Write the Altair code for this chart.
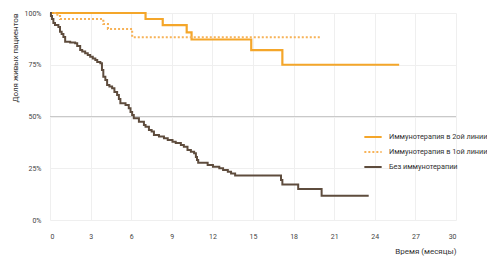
import altair as alt
import pandas as pd

series_names = ["Иммунотерапия в 2ой линии", "Иммунотерапия в 1ой линии", "Без иммунотерапии"]
series_colors = ["#F4A62A", "#F7B257", "#5E4C3D"]
series_dash = [[1, 0], [2, 2], [1, 0]]
series_width = [2.2, 2.0, 2.4]

# Immunotherapy, 2nd line
t_2nd = [0, 7.06, 8.33, 10.1, 10.46, 14.87, 17.17, 25.8]
s_2nd = [100, 97.1, 94.1, 90.6, 87.2, 82.1, 75.0, 75.0]

# Immunotherapy, 1st line
t_1st = [0, 0.37, 0.74, 3.94, 4.28, 6.07, 20.07]
s_1st = [100, 99.2, 97.1, 94.7, 92.3, 88.3, 88.3]

# No immunotherapy
t_none = [0, 0.07, 0.15, 0.25, 0.37, 0.62, 0.74, 0.86, 0.99, 1.12, 1.49, 1.86, 2.01,
          2.23, 2.38, 2.60, 2.79, 2.97, 3.16, 3.35, 3.49, 3.72, 3.84, 3.94, 4.09, 4.22,
          4.39, 4.59, 4.76, 4.96, 5.09, 5.20, 5.58, 5.82, 5.95, 6.07, 6.19, 6.57, 6.94,
          7.06, 7.31, 7.51, 7.68, 8.05, 8.42, 8.70, 9.05, 9.29, 9.67, 9.89, 10.16, 10.41,
          10.65, 10.78, 10.86, 10.95, 11.65, 12.04, 12.51, 12.79, 13.14, 13.38, 13.68,
          17.07, 17.17, 18.34, 20.07, 23.55]
s_none = [100, 98.6, 97.1, 95.2, 94.2, 93.2, 91.0, 89.9, 88.4, 86.1, 85.7, 85.4, 84.1,
          82.1, 81.4, 80.5, 79.7, 78.9, 78.0, 77.3, 76.3, 75.7, 72.5, 69.2, 67.6, 65.2,
          64.5, 63.6, 61.8, 60.4, 58.5, 56.4, 55.6, 54.0, 52.2, 50.7, 49.1, 47.5, 45.9,
          45.1, 43.5, 42.7, 41.1, 40.3, 39.5, 38.6, 37.8, 37.2, 36.2, 35.4, 33.8, 33.0,
          32.2, 30.4, 29.0, 27.7, 26.6, 25.7, 25.0, 24.2, 23.3, 22.5, 21.5,
          19.3, 17.2, 15.0, 11.7, 11.7]

x_ticks = [0, 3, 6, 9, 12, 15, 18, 21, 24, 27, 30]
y_ticks = [0, 25, 50, 75, 100]
ref_line = [50]

rows = []
for name, ts, ss in zip(series_names, [t_2nd, t_1st, t_none], [s_2nd, s_1st, s_none]):
    for t, s in zip(ts, ss):
        rows.append({"series": name, "t": t, "s": s})
df = pd.DataFrame(rows)

FONT = "Roboto"

x_enc = alt.X("t:Q", scale=alt.Scale(domain=[0, 30], nice=False),
              axis=alt.Axis(values=x_ticks, title="Время (месяцы)", titleAnchor="end",
                            labelPadding=12, titlePadding=8, grid=True))
y_enc = alt.Y("s:Q", scale=alt.Scale(domain=[0, 100], nice=False),
              axis=alt.Axis(values=y_ticks, labelExpr="datum.value + '%'",
                            title="Доля живых пациентов", titleAnchor="end",
                            labelPadding=9, titlePadding=5, grid=True))

legend_cfg = dict(title=None, orient="none", legendX=313, legendY=114,
                  symbolType="stroke", symbolSize=300, symbolStrokeWidth=2.2,
                  labelFontSize=7.3, labelFont=FONT, labelColor="#333333",
                  labelOffset=6, rowPadding=-2, labelLimit=0)

rule = alt.Chart(pd.DataFrame({"y": ref_line})).mark_rule(
    color="#c9c9c9", strokeWidth=1).encode(y=alt.Y("y:Q"))

lines = alt.Chart(df).mark_line(interpolate="step-after").encode(
    x=x_enc,
    y=y_enc,
    color=alt.Color("series:N", sort=series_names,
                    scale=alt.Scale(domain=series_names, range=series_colors),
                    legend=alt.Legend(**legend_cfg)),
    strokeDash=alt.StrokeDash("series:N", sort=series_names,
                              scale=alt.Scale(domain=series_names, range=series_dash),
                              legend=alt.Legend(**legend_cfg)),
    strokeWidth=alt.StrokeWidth("series:N",
                                scale=alt.Scale(domain=series_names, range=series_width),
                                legend=None),
)

chart = alt.layer(rule, lines).properties(
    width=406, height=207,
    autosize=alt.AutoSizeParams(type="none"),
    padding={"left": 42, "top": 5, "right": 31, "bottom": 36},
).configure_view(stroke=None).configure_axis(
    domain=False, ticks=False, gridColor="#efefef", gridWidth=1,
    labelFont=FONT, labelFontSize=7, labelColor="#444444",
    titleFont=FONT, titleFontSize=8, titleFontWeight="normal", titleColor="#333333",
)

chart.save("out.html", embed_options={"renderer": "svg", "actions": False})
